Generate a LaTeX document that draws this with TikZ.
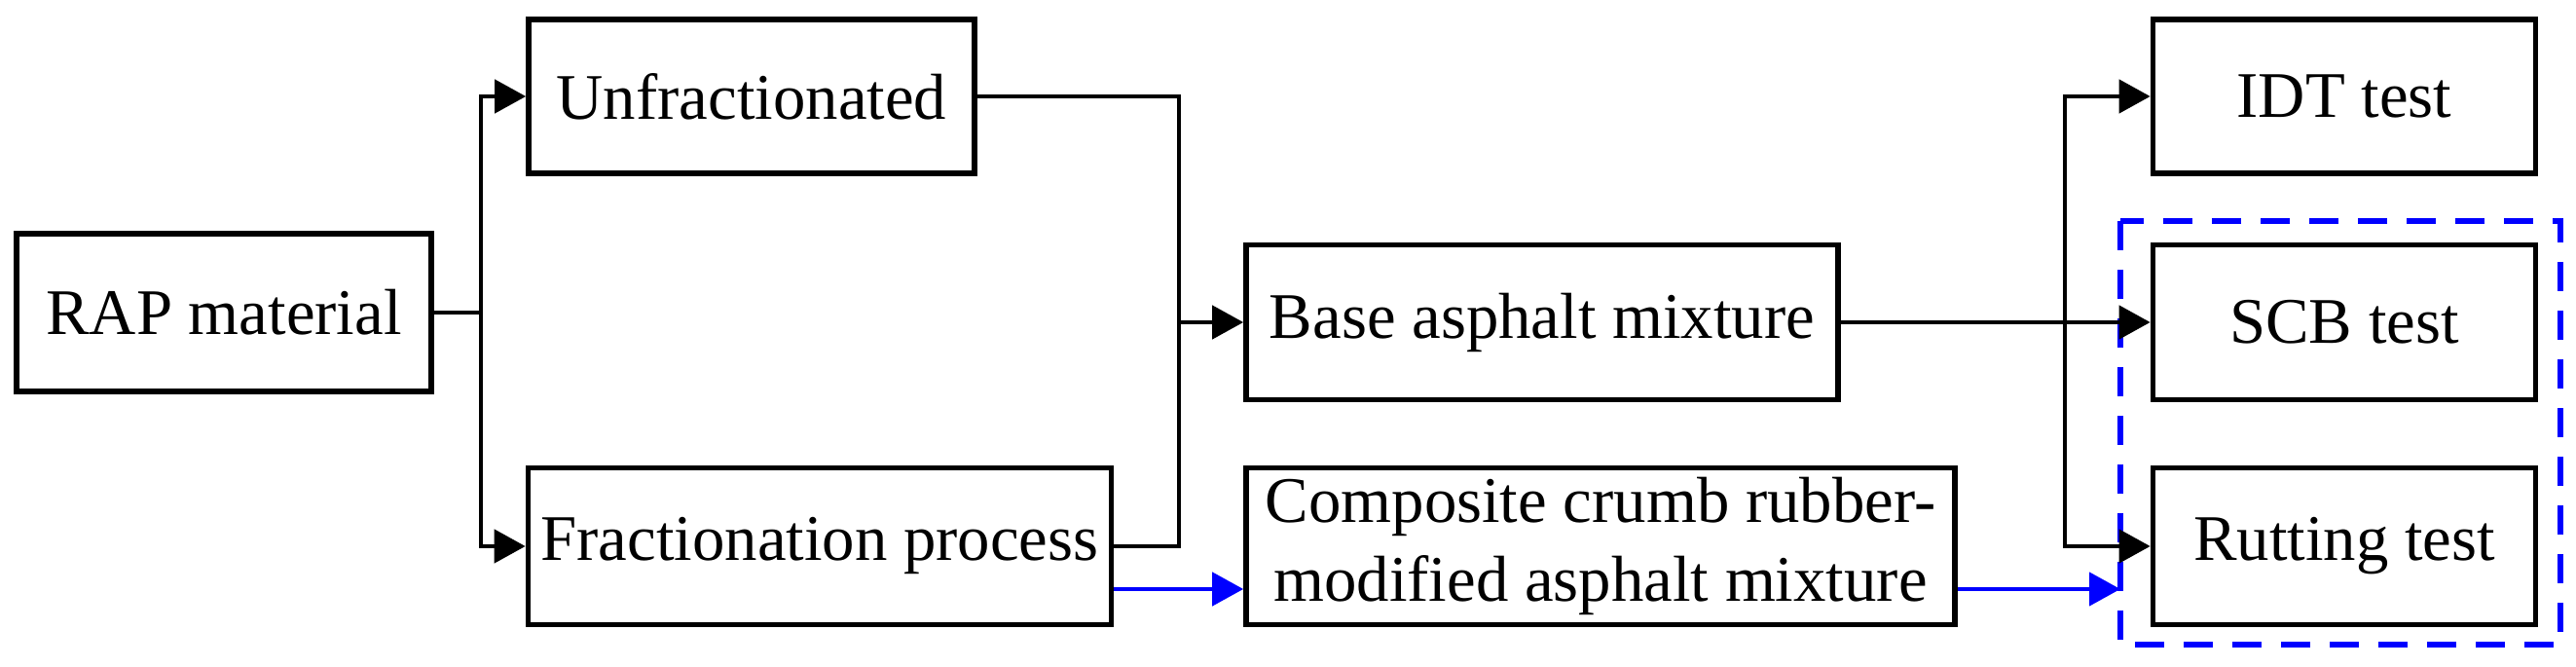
\documentclass[tikz,border=0pt]{standalone}
\usepackage{fontspec}
\setmainfont{Liberation Serif}
\usetikzlibrary{positioning}
\usetikzlibrary{calc}
\usetikzlibrary{arrows.meta}
\tikzset{
b/.style={
  rectangle,
  inner sep=0pt,
  align=center,
  draw=black,
  line width=1.6pt,
  font=\fontsize{19}{23}\selectfont
  }
}
\begin{document}
\begin{tikzpicture}[->,>={Triangle[length=3.2mm,width=3.4mm]},line width=1.3pt]
        \useasboundingbox (0,0) rectangle (26.46,-6.85);
        \node[b,minimum width=4.26cm,minimum height=1.62cm] at (2.30,-3.21) (rap) {RAP material};
        \node[b,minimum width=4.58cm,minimum height=1.58cm] at (7.72,-0.99) (unf) {Unfractionated};
        \node[b,minimum width=5.99cm,minimum height=1.61cm] at (8.42,-5.61) (frac) {Fractionation process};
        \node[b,minimum width=6.08cm,minimum height=1.59cm] at (15.84,-3.31) (base) {Base asphalt mixture};
        \node[b,minimum width=7.28cm,minimum height=1.61cm] at (16.44,-5.61) (crm) {Composite crumb rubber-\\modified asphalt mixture};
        \node[b,minimum width=3.93cm,minimum height=1.58cm] at (24.08,-0.99) (idt) {IDT test};
        \node[b,minimum width=3.93cm,minimum height=1.59cm] at (24.08,-3.31) (scb) {SCB test};
        \node[b,minimum width=3.93cm,minimum height=1.61cm] at (24.08,-5.61) (rut) {Rutting test};
        \draw[blue,line width=1.6pt,-,dash pattern=on 3mm off 2mm] (21.78,-2.27) rectangle (26.30,-6.62);
        \coordinate (grp) at (21.78,-6.05);
        \coordinate (split) at (4.94,-3.21);
        \draw[-] (rap.east) -- (split);
        \draw (split) |- (unf);
        \draw (split) |- (frac);
        \draw (unf.east) -| (12.11,-3.31) -- (base);
        \draw[-] (frac.east) -| (12.11,-3.31);
        \draw (base) -- (scb);
        \draw (21.21,-3.31) |- (idt);
        \draw (21.21,-3.31) |- (rut);
        \draw[blue] (frac.east |- 0,-6.05) -- (crm.west |- 0,-6.05);
        \draw[blue] (crm.east |- 0,-6.05) -- (grp);
\end{tikzpicture}
\end{document}
